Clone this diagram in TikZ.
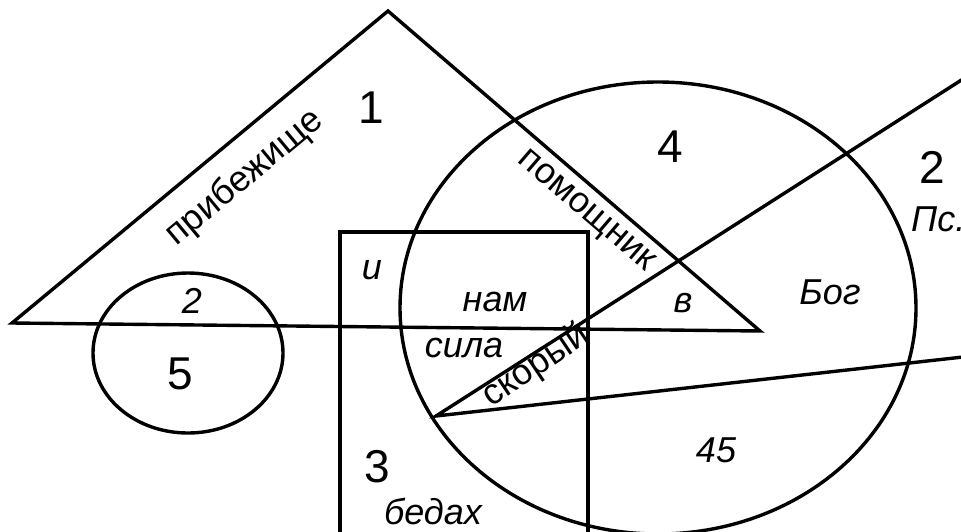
\documentclass[tikz,border=0pt]{standalone}
\usepackage{fontspec}
\setmainfont{Liberation Sans}
\begin{document}
\begin{tikzpicture}[
    x=1pt, y=-1pt,
    % Styles
    figure/.style={line width=3.4pt, line join=miter},
    num/.style={font=\fontsize{46}{46}\selectfont, inner sep=0pt},
    word/.style={font=\fontsize{36}{36}\selectfont\itshape, inner sep=0pt},
    slant/.style={font=\fontsize{36}{36}\selectfont, inner sep=0pt},
]
    \useasboundingbox (0,0) rectangle (961,531);

    % Triangle 1
    \coordinate (apex) at (388,11);
    \coordinate (tl) at (12,323);
    \coordinate (tr) at (760,331);
    \draw[figure] (tl) -- (apex) -- (tr) -- cycle;

    % Rectangle 3, open at the bottom
    \draw[figure] (340,540) -- (340,232) -- (588,232) -- (588,540);

    % Circle 4
    \draw[figure] (658,308) ellipse [x radius=258pt, y radius=226pt];

    % Circle 5
    \draw[figure] (188,353) ellipse [x radius=95pt, y radius=80pt];

    % Wedge 2
    \coordinate (tip) at (436,416);
    \draw[figure] (963,79) -- (tip) -- (963,357);
    \draw[line width=1.4pt] (577,328) circle (3pt);

    % Numbers
    \node[num] (n1) at (371,108) {1};
    \node[num] (n4) at (670,147) {4};
    \node[num] (n2) at (932,167) {2};
    \node[num] (n3) at (377,467) {3};
    \node[num] (n5) at (180,374) {5};
    \node[word] (two) at (192,301) {2};
    \node[word, anchor=west] (ps) at (911,219) {Пс.};

    % Words along the edges
    \node[slant, rotate=39.7] (refuge) at (245,178) {прибежище};
    \node[slant, rotate=-40.7] (helper) at (585,212) {помощник};
    \node[slant, rotate=34] (swift) at (536,366) {скорый};

    % Words inside the regions
    \node[word] (and) at (372,270) {и};
    \node[word] (us) at (495,302) {нам};
    \node[word] (in) at (683,303) {в};
    \node[word] (god) at (830,292) {Бог};
    \node[word] (power) at (464,348) {сила};
    \node[word] (psalm) at (716,450) {45};
    \node[word] (troubles) at (433,511) {бедах};

\end{tikzpicture}
\end{document}
